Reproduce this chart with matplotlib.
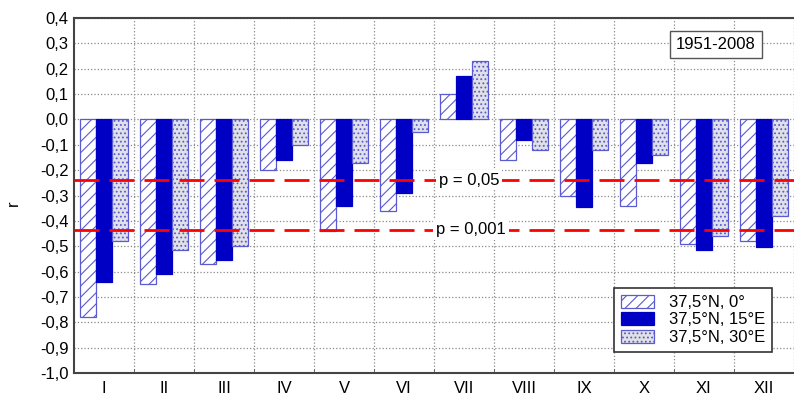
import numpy as np
import matplotlib
matplotlib.use("Agg")
import matplotlib.pyplot as plt
from matplotlib.patches import Patch

plt.rcParams['font.family'] = ['Liberation Sans', 'DejaVu Sans']
plt.rcParams['hatch.linewidth'] = 0.8

months = ["I", "II", "III", "IV", "V", "VI", "VII", "VIII", "IX", "X", "XI", "XII"]
r_0 = [-0.78, -0.65, -0.57, -0.20, -0.44, -0.36, 0.10, -0.16, -0.30, -0.34, -0.49, -0.48]
r_15e = [-0.64, -0.61, -0.555, -0.16, -0.34, -0.29, 0.17, -0.08, -0.345, -0.17, -0.515, -0.505]
r_30e = [-0.48, -0.515, -0.50, -0.10, -0.17, -0.05, 0.23, -0.12, -0.12, -0.14, -0.46, -0.38]
series_labels = ["37,5°N, 0°", "37,5°N, 15°E", "37,5°N, 30°E"]
p05 = -0.239
p001 = -0.436
yticks = [0.4, 0.3, 0.2, 0.1, 0.0, -0.1, -0.2, -0.3, -0.4, -0.5, -0.6, -0.7, -0.8, -0.9, -1.0]
ytick_labels = ["0,4", "0,3", "0,2", "0,1", "0,0", "-0,1", "-0,2", "-0,3", "-0,4",
                "-0,5", "-0,6", "-0,7", "-0,8", "-0,9", "-1,0"]

W, H = 794, 396
fig = plt.figure(figsize=(W / 100, H / 100), dpi=100)
ax = fig.add_axes([74 / W, 1 - 373 / H, 1 - 74 / W, (373 - 18) / H])

x = np.arange(len(months))
w = 0.27
edge = "#5a5ad2"
ax.bar(x - w, r_0, w, facecolor="white", edgecolor=edge, hatch="///", linewidth=0.9, zorder=3)
ax.bar(x, r_15e, w, facecolor="#0000c4", edgecolor="#0000c4", linewidth=0.9, zorder=3)
ax.bar(x + w, r_30e, w, facecolor="#e0e0e8", edgecolor=edge, hatch="....", linewidth=0.9, zorder=3)

ls = (0, (9, 3.6))
ax.axhline(p05, color="#ff0000", lw=2, linestyle=ls, zorder=4)
ax.axhline(p001, color="#ff0000", lw=2, linestyle=ls, zorder=4)
ax.text(6.08, p05, "p = 0,05", ha="center", va="center", fontsize=12, zorder=5,
        bbox=dict(facecolor="white", edgecolor="none", pad=2))
ax.text(6.12, p001, "p = 0,001", ha="center", va="center", fontsize=12, zorder=5,
        bbox=dict(facecolor="white", edgecolor="none", pad=2))

ax.text(10.2, 0.295, "1951-2008", ha="center", va="center", fontsize=12, zorder=5,
        bbox=dict(facecolor="white", edgecolor="#555555", boxstyle="square,pad=0.35"))

ax.set_xlim(-0.5, -0.5 + (W - 74) / 61)
ax.set_ylim(-1.0, 0.4)
ax.set_yticks(yticks)
ax.set_yticklabels(ytick_labels, fontsize=12)
ax.set_xticks(x)
ax.set_xticklabels(months, fontsize=12)
ax.set_xticks(np.arange(len(months)) + 0.5, minor=True)
ax.tick_params(axis="x", which="major", length=0, pad=6)
ax.tick_params(axis="x", which="minor", length=3, direction="in", color="#555555")
ax.tick_params(axis="y", length=0, pad=4)
ax.grid(axis="y", color="#8a8a8a", linestyle=":", linewidth=0.9, zorder=0)
ax.grid(axis="x", which="minor", color="#8a8a8a", linestyle=":", linewidth=0.9, zorder=0)
ax.set_axisbelow(True)

for s in ["left", "top", "bottom"]:
    ax.spines[s].set_color("#444444")
    ax.spines[s].set_linewidth(1.5)
ax.spines["right"].set_visible(False)

fig.text(13 / W, 1 - 203 / H, "r", rotation=90, ha="center", va="center", fontsize=12)

handles = [
    Patch(facecolor="white", edgecolor=edge, hatch="///", linewidth=0.9),
    Patch(facecolor="#0000c4", edgecolor="#0000c4", linewidth=0.9),
    Patch(facecolor="#e0e0e8", edgecolor=edge, hatch="....", linewidth=0.9),
]
leg = fig.legend(handles, series_labels, loc="upper left",
                 bbox_to_anchor=(614 / W, 1 - 288 / H), fontsize=12,
                 fancybox=False, framealpha=1, edgecolor="#333333",
                 handlelength=2.0, handleheight=0.85, handletextpad=0.9,
                 labelspacing=0.12, borderpad=0.4, borderaxespad=0)
leg.get_frame().set_linewidth(1.2)

fig.savefig("out.png", dpi=100)
